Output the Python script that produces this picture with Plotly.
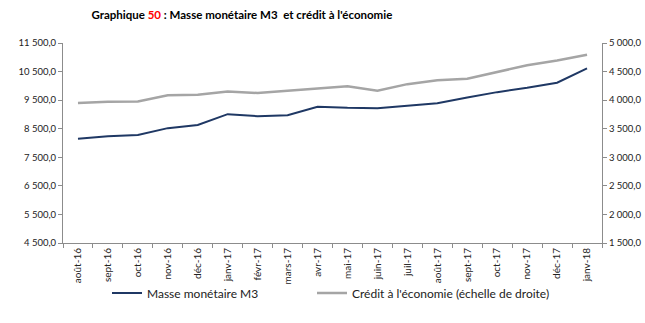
import plotly.graph_objects as go

# Mois (août 2016 – janvier 2018)
mois = ["août-16", "sept-16", "oct-16", "nov-16", "déc-16", "janv-17", "févr-17",
        "mars-17", "avr-17", "mai-17", "juin-17", "juil-17", "août-17", "sept-17",
        "oct-17", "nov-17", "déc-17", "janv-18"]

# Masse monétaire M3 (échelle de gauche)
masse_m3 = [8150, 8240, 8280, 8520, 8630, 9010, 8940, 8970, 9270,
            9230, 9220, 9300, 9390, 9590, 9780, 9930, 10110, 10610]

# Crédit à l'économie (échelle de droite)
credit_eco = [3950, 3970, 3975, 4085, 4095, 4150, 4125, 4170, 4205,
              4245, 4165, 4280, 4350, 4375, 4495, 4610, 4695, 4795]

FONT = "Lato"
AXIS_GREY = "#8c8c8c"

fig = go.Figure()
fig.add_trace(go.Scatter(
    x=mois, y=masse_m3, name="Masse monétaire M3", mode="lines",
    line=dict(color="#1f3864", width=2), yaxis="y", legend="legend"))
fig.add_trace(go.Scatter(
    x=mois, y=credit_eco, name="Crédit à l'économie (échelle de droite)", mode="lines",
    line=dict(color="#a5a5a5", width=2.5), yaxis="y2", legend="legend2"))

legend_style = dict(
    orientation="h", xref="container", xanchor="left",
    y=30 / 323, yref="container", yanchor="middle",
    font=dict(family=FONT, size=12, color="#222"),
    itemwidth=30, bgcolor="rgba(0,0,0,0)")

fig.update_layout(
    width=645, height=323,
    margin=dict(l=63, r=43, t=43, b=80, autoexpand=False),
    paper_bgcolor="white", plot_bgcolor="white",
    font=dict(family=FONT, size=9, color="#222"),
    title=dict(
        text="Graphique <span style='color:#ff0000'>50</span> : Masse monétaire M3  et crédit à l'économie",
        x=0.375, xanchor="center", y=0.955, yanchor="middle",
        font=dict(family=FONT, size=11.5, color="#000", weight="bold")),
    xaxis=dict(
        type="category", tickangle=-90, showgrid=False, automargin=False,
        showline=True, linecolor=AXIS_GREY, linewidth=1,
        ticks="outside", tickson="boundaries", ticklen=4, tickcolor=AXIS_GREY,
        tickfont=dict(family=FONT, size=10, color="#222"),
        range=[-0.5, len(mois) - 0.5]),
    yaxis=dict(
        range=[4500, 11500], tickvals=[4500, 5500, 6500, 7500, 8500, 9500, 10500, 11500],
        ticktext=["4 500,0", "5 500,0", "6 500,0", "7 500,0", "8 500,0",
                  "9 500,0", "10 500,0", "11 500,0"],
        showgrid=False, zeroline=False, automargin=False,
        showline=True, linecolor=AXIS_GREY, linewidth=1,
        ticks="outside", ticklen=4, tickcolor=AXIS_GREY,
        tickfont=dict(family=FONT, size=9.5, color="#222")),
    yaxis2=dict(
        overlaying="y", side="right", automargin=False,
        range=[1500, 5000], tickvals=[1500, 2000, 2500, 3000, 3500, 4000, 4500, 5000],
        ticktext=["1 500,0", "2 000,0", "2 500,0", "3 000,0", "3 500,0",
                  "4 000,0", "4 500,0", "5 000,0"],
        showgrid=False, zeroline=False,
        showline=True, linecolor=AXIS_GREY, linewidth=1,
        ticks="outside", ticklen=4, tickcolor=AXIS_GREY,
        tickfont=dict(family=FONT, size=9.5, color="#222")),
    legend=dict(legend_style, x=107 / 645),
    legend2=dict(legend_style, x=312 / 645),
    showlegend=True,
)

fig.write_html("out.html")
